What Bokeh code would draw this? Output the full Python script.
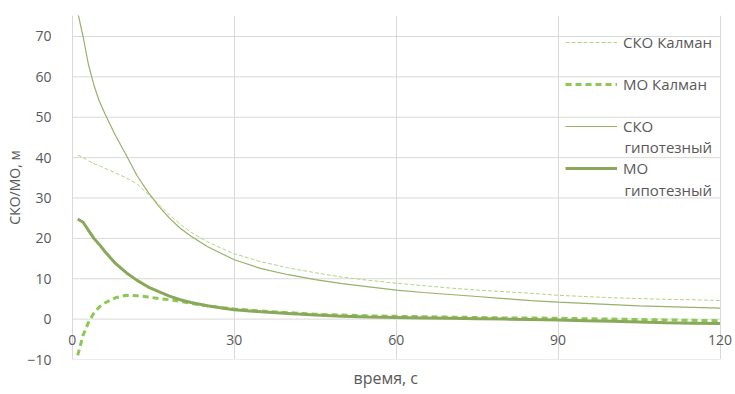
from bokeh.plotting import figure
from bokeh.models import Range1d, Legend, LegendItem, Label, Title, FixedTicker
from bokeh.embed import file_html
from bokeh.resources import INLINE

t = [1, 2, 3, 4, 5, 6, 8, 10, 12, 14, 16, 18, 20, 22, 25, 28, 30, 35, 40, 45, 50,
     55, 60, 65, 70, 75, 80, 85, 90, 95, 100, 105, 110, 115, 120]
sko_kalman = [40.6, 40.0, 39.2, 38.5, 38.0, 37.4, 36.2, 35.0, 33.5, 31.0, 28.5, 25.8, 23.5,
              21.5, 19.2, 17.3, 16.2, 14.2, 12.7, 11.5, 10.4, 9.6, 8.9, 8.3, 7.7, 7.2,
              6.8, 6.4, 5.9, 5.6, 5.3, 5.1, 4.9, 4.8, 4.6]
mo_kalman = [-9.0, -4.0, -0.8, 1.5, 3.0, 4.0, 5.3, 5.9, 5.8, 5.5, 5.1, 4.8, 4.4, 3.9, 3.3,
             2.8, 2.5, 2.0, 1.6, 1.2, 1.0, 0.8, 0.7, 0.6, 0.5, 0.4, 0.3, 0.3, 0.2, 0.1,
             0.0, -0.1, -0.2, -0.3, -0.4]
sko_hyp = [76.0, 70.0, 63.0, 58.0, 54.0, 51.0, 45.5, 40.6, 35.5, 31.5, 28.0, 25.0, 22.5,
           20.5, 18.0, 16.0, 14.7, 12.5, 11.0, 9.8, 8.8, 8.0, 7.2, 6.6, 6.1, 5.6, 5.1,
           4.6, 4.2, 3.9, 3.6, 3.3, 3.1, 2.9, 2.7]
mo_hyp = [24.8, 24.0, 22.0, 20.0, 18.5, 16.8, 13.8, 11.5, 9.6, 8.0, 6.8, 5.7, 4.8, 4.1,
          3.3, 2.7, 2.3, 1.8, 1.4, 1.0, 0.7, 0.5, 0.4, 0.3, 0.2, 0.1, 0.0, -0.1, -0.2,
          -0.4, -0.5, -0.7, -0.9, -1.0, -1.1]

x_ticks = [0, 30, 60, 90, 120]
x_tick_labels = ["0", "30", "60", "90", "120"]
x_label_y = -5.2
y_ticks = [-10, 0, 10, 20, 30, 40, 50, 60, 70]

FONT = "Open Sans"
GRAY = "#595959"
GRID = "#d9d9d9"

p = figure(width=735, height=394, output_backend="svg", toolbar_location=None,
           x_range=Range1d(-2, 122.5), y_range=Range1d(-10, 75.2),
           min_border_left=61, min_border_right=2, min_border_top=15, min_border_bottom=35)
p.outline_line_color = None
p.background_fill_color = "white"
p.border_fill_color = "white"

p.xaxis.visible = False
p.ygrid.visible = False
p.xgrid.ticker = FixedTicker(ticks=x_ticks)
p.xgrid.grid_line_color = GRID

# horizontal grid lines limited to the data span of the time axis
p.segment(x0=[x_ticks[0]] * len(y_ticks), x1=[x_ticks[-1]] * len(y_ticks),
          y0=y_ticks, y1=y_ticks, line_color=GRID, line_width=1)

yax = p.yaxis[0]
yax.ticker = FixedTicker(ticks=y_ticks)
yax.axis_line_color = None
yax.major_tick_line_color = None
yax.minor_tick_line_color = None
yax.major_label_standoff = 4
yax.major_label_text_font = FONT
yax.major_label_text_font_size = "14px"
yax.major_label_text_color = GRAY
yax.axis_label = "СКО/МО, м"
yax.axis_label_text_font = FONT
yax.axis_label_text_font_size = "14px"
yax.axis_label_text_font_style = "normal"
yax.axis_label_text_color = GRAY
yax.axis_label_standoff = 0

p.add_layout(Title(text="время, с", align="left", text_font=FONT, text_font_size="16px",
                   text_font_style="normal", text_color=GRAY, standoff=10, offset=292), "below")

# x tick labels placed next to the zero line
for xv, lab in zip(x_ticks, x_tick_labels):
    p.add_layout(Label(x=xv, y=x_label_y, text=lab, text_font=FONT, text_font_size="14px",
                       text_color=GRAY, text_align="center", text_baseline="middle"))

r1 = p.line(t, sko_kalman, line_color="#b2d48a", line_width=1, line_dash="4 2")
r2 = p.line(t, mo_kalman, line_color="#8cc852", line_width=3, line_dash="6 4")
r3 = p.line(t, sko_hyp, line_color="#98b06a", line_width=1.2)
r4 = p.line(t, mo_hyp, line_color="#8aa85a", line_width=3)

legend = Legend(items=[LegendItem(label="СКО Калман", renderers=[r1]),
                       LegendItem(label="МО Калман", renderers=[r2]),
                       LegendItem(label="СКО", renderers=[r3]),
                       LegendItem(label="МО", renderers=[r4])],
                location=(504, 181), orientation="vertical", background_fill_alpha=0,
                border_line_color=None, padding=0, margin=0, spacing=22,
                label_height=20, glyph_height=20, glyph_width=52, label_standoff=6,
                label_text_font=FONT, label_text_font_size="15px", label_text_color=GRAY)
p.add_layout(legend, "center")

for yy in [146, 189]:
    p.add_layout(Label(x=563, y=344 - (yy - 15), x_units="screen", y_units="screen",
                       text="гипотезный", text_font=FONT, text_font_size="15px",
                       text_color=GRAY, text_baseline="middle"))

open("out.html", "w").write(file_html(p, INLINE))
